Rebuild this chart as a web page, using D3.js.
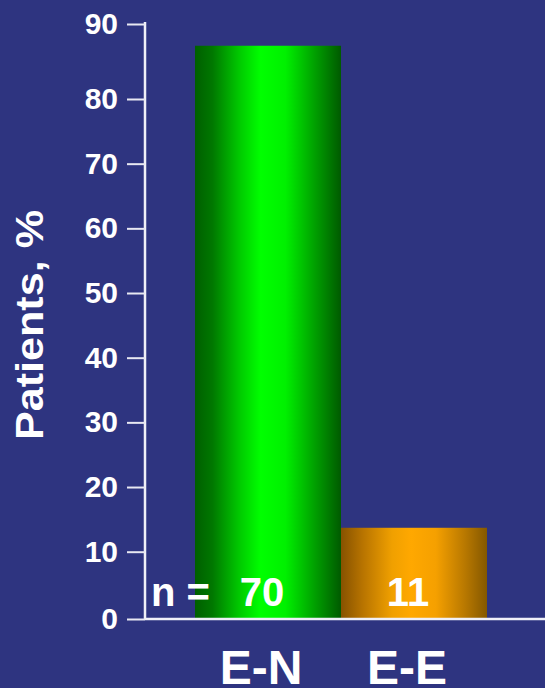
<!DOCTYPE html>
<html><head><meta charset="utf-8">
<script src="https://cdn.jsdelivr.net/npm/d3@7"></script>
<style>html,body{margin:0;padding:0;background:#2E3480;}svg{display:block;}</style>
</head><body>
<script>
const categories = ["E-N", "E-E"];
const values = [87.1, 13.7];
const counts = ["70", "11"];
const yTicks = [0, 10, 20, 30, 40, 50, 60, 70, 80, 90];
const yTitle = "Patients, %";

const W = 545, H = 688;
const svg = d3.select("body").append("svg").attr("width", W).attr("height", H);
svg.append("rect").attr("width", W).attr("height", H).attr("fill", "#2E3480");

const defs = svg.append("defs");
function grad(id, stops) {
  const g = defs.append("linearGradient").attr("id", id).attr("x1", "0%").attr("x2", "100%").attr("y1", "0%").attr("y2", "0%");
  stops.forEach(s => g.append("stop").attr("offset", s[0]).attr("stop-color", s[1]));
}
grad("gGreen", [["0%", "#005f00"], ["12%", "#007800"], ["30%", "#00c800"], ["45%", "#00ff00"], ["62%", "#00f000"], ["82%", "#00a000"], ["100%", "#005a00"]]);
grad("gOrange", [["0%", "#865200"], ["15%", "#b87400"], ["35%", "#f0a000"], ["48%", "#ffa800"], ["65%", "#f5a000"], ["85%", "#b87800"], ["100%", "#845800"]]);
const fills = ["url(#gGreen)", "url(#gOrange)"];

// piecewise scale follows the reference's tick positions
const y = d3.scaleLinear().domain([0, 10, 80, 90]).range([619, 551.7, 99, 24]);
const x = d3.scaleBand().domain(categories).range([195, 487]).padding(0);

// bars
svg.selectAll("rect.bar").data(categories).join("rect")
  .attr("class", "bar")
  .attr("x", d => x(d))
  .attr("width", x.bandwidth())
  .attr("y", (d, i) => y(values[i]))
  .attr("height", (d, i) => y(0) - y(values[i]))
  .attr("fill", (d, i) => fills[i]);

const font = "Liberation Sans, Arial, sans-serif";

// y axis
const yAxis = svg.append("g").attr("transform", "translate(145,0)")
  .call(d3.axisLeft(y).tickValues(yTicks).tickSize(18).tickSizeOuter(0).tickPadding(9));
yAxis.select(".domain").attr("stroke", "#f0f0f8").attr("stroke-width", 2.5).attr("d", `M0,${y(90) - 2}V${y(0)}`);
yAxis.selectAll(".tick line").attr("stroke", "#e8e8f2").attr("stroke-width", 2);
yAxis.selectAll(".tick text").attr("fill", "#ffffff")
  .style("font-family", font)
  .style("font-weight", "bold").style("font-size", "30px");

// x axis baseline
svg.append("line").attr("x1", 145).attr("x2", W).attr("y1", y(0)).attr("y2", y(0))
  .attr("stroke", "#f0f0f8").attr("stroke-width", 2.5);

// category labels
svg.selectAll("text.cat").data(categories).join("text")
  .attr("class", "cat")
  .attr("x", d => x(d) + x.bandwidth() / 2 - 7)
  .attr("y", 684)
  .attr("text-anchor", "middle")
  .attr("fill", "#ffffff")
  .style("font-family", font).style("font-weight", "bold").style("font-size", "48px")
  .text(d => d);

// n labels
svg.append("text").attr("x", 151).attr("y", 606).attr("fill", "#fff")
  .style("font-family", font).style("font-weight", "bold").style("font-size", "40px")
  .text("n =");
svg.selectAll("text.cnt").data(categories).join("text")
  .attr("class", "cnt")
  .attr("x", d => x(d) + x.bandwidth() / 2 - 6)
  .attr("y", 606)
  .attr("text-anchor", "middle")
  .attr("fill", "#ffffff")
  .style("font-family", font).style("font-weight", "bold").style("font-size", "40px")
  .text((d, i) => counts[i]);

// y title
svg.append("text")
  .attr("transform", "translate(43,325) rotate(-90)")
  .attr("text-anchor", "middle")
  .attr("fill", "#ffffff")
  .attr("textLength", 230).attr("lengthAdjust", "spacingAndGlyphs")
  .style("font-family", font).style("font-weight", "bold").style("font-size", "38px")
  .text(yTitle);
</script>
</body></html>
